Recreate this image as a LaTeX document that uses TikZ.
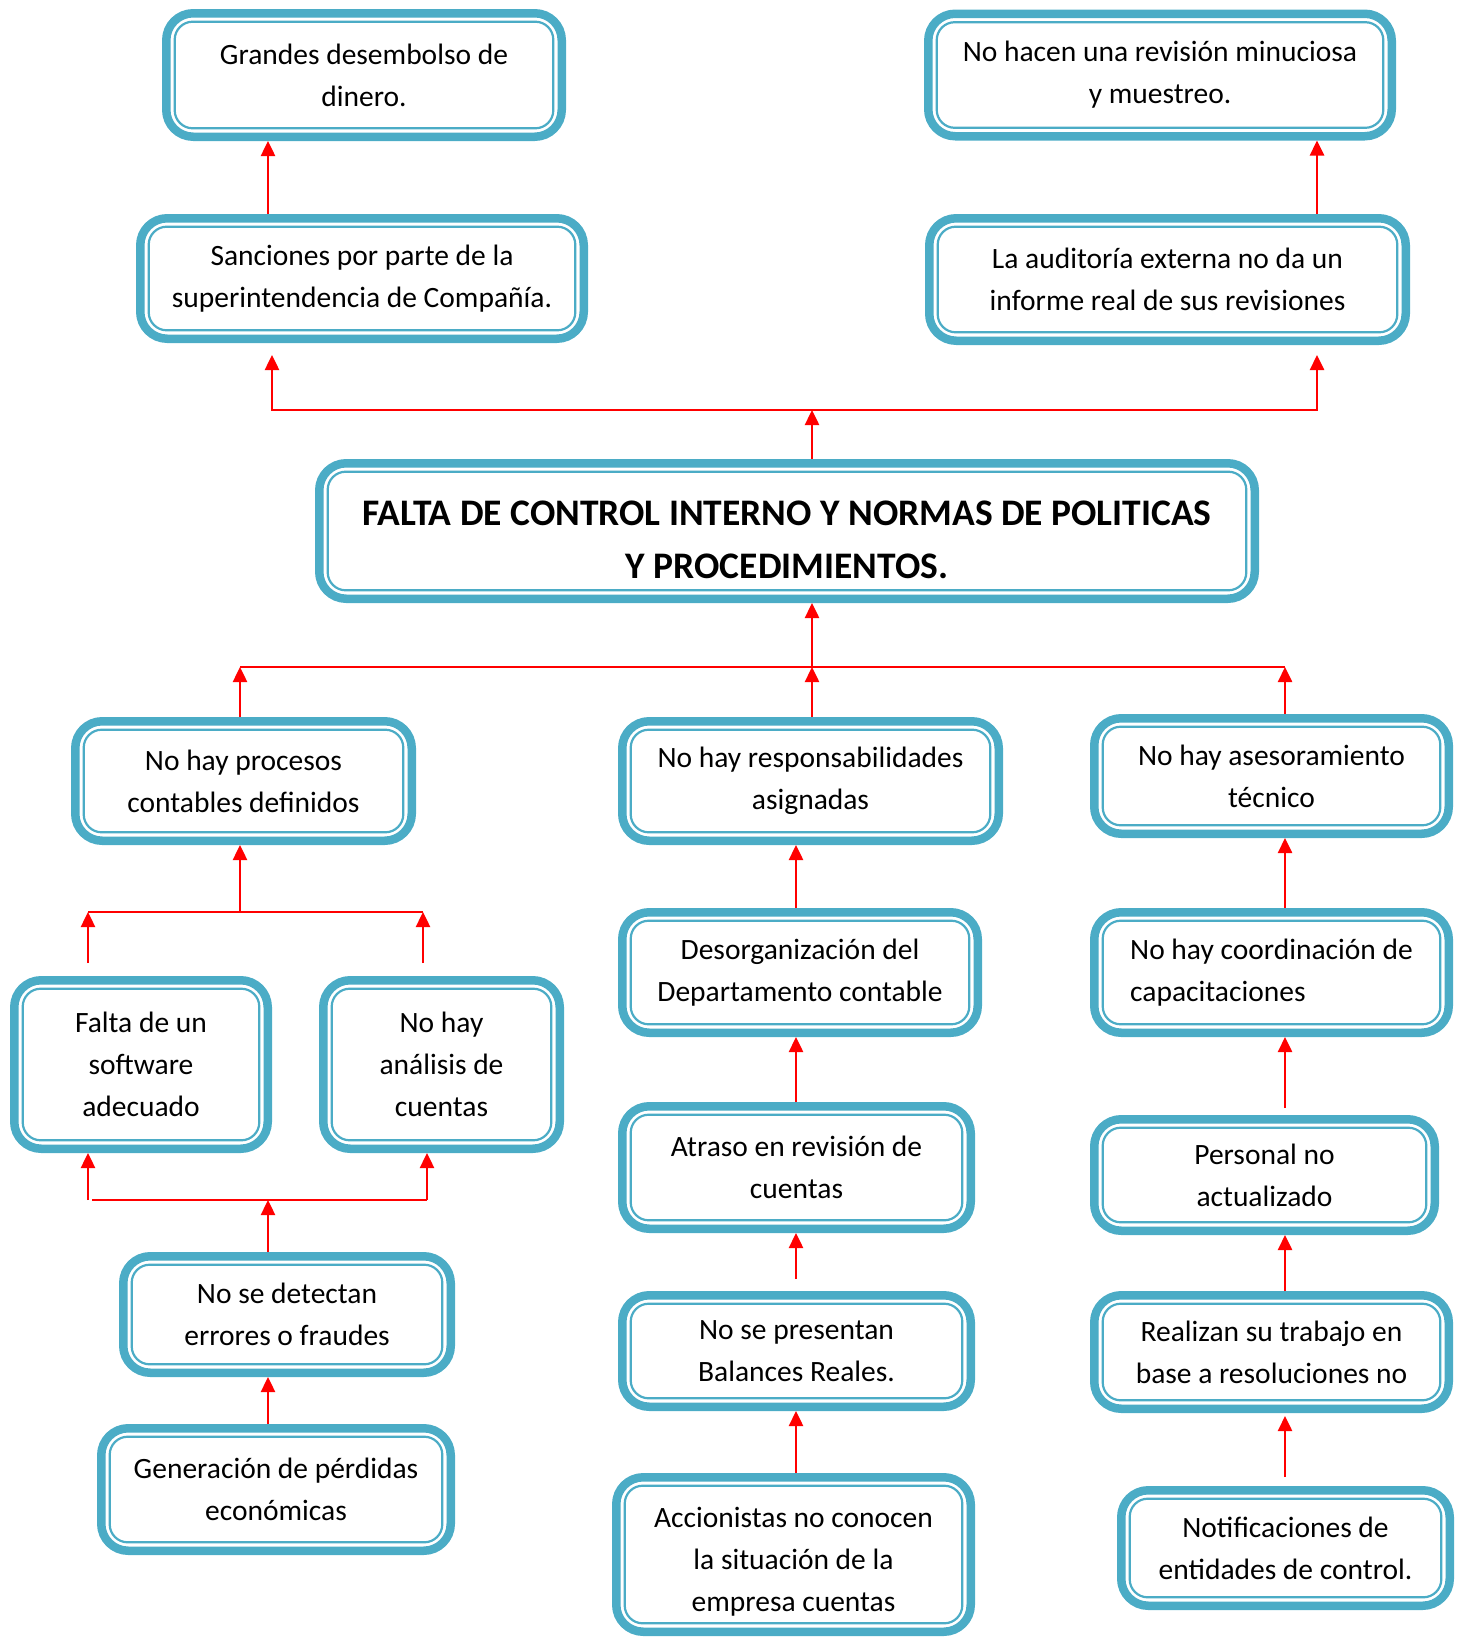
\documentclass[tikz,border=0pt]{standalone}
\usepackage{fontspec}
\setmainfont{Carlito}
\usetikzlibrary{arrows.meta,calc}
\definecolor{cajaazul}{HTML}{4BACC6}
\definecolor{flecharoja}{HTML}{FF0000}

\begin{document}
\begin{tikzpicture}[
  x=1pt, y=-1pt,
  caja/.style={draw=cajaazul, line width=8.5pt, rounded corners=27pt, fill=white, align=center, inner sep=0pt, font=\fontsize{29.5}{42}\selectfont},
  borde/.style={draw=cajaazul, line width=2.2pt, rounded corners=18pt},
  titulo/.style={caja, font=\bfseries\fontsize{37.5}{53}\selectfont},
  linea/.style={draw=flecharoja, line width=2.5pt},
  flecha/.style={linea, -{Triangle[width=14pt,length=15pt]}}
]
\useasboundingbox (0,0) rectangle (1464,1638);

% efectos
\node[caja, minimum width=395.5pt, minimum height=123.5pt] (gd) at (364,75) {Grandes desembolso de\\dinero.};
\node[caja, minimum width=463.5pt, minimum height=122.5pt] (nh) at (1160,75) {No hacen una revisión minuciosa\\y muestreo.};
\node[caja, minimum width=443.5pt, minimum height=120.5pt] (sp) at (362,278.5) {Sanciones por parte de la\\superintendencia de Compañía.};
\node[caja, minimum width=476.5pt, minimum height=122.5pt] (ae) at (1167.5,279.5) {La auditoría externa no da un\\informe real de sus revisiones};

% problema central
\node[titulo, minimum width=935.5pt, minimum height=135.5pt] (main) at (787,531) {\rule{0pt}{42pt}FALTA DE CONTROL INTERNO Y NORMAS DE POLITICAS\\Y PROCEDIMIENTOS.};

% causas
\node[caja, minimum width=336.5pt, minimum height=119.5pt] (pc) at (243.5,781) {No hay procesos\\contables definidos};
\node[caja, minimum width=376.5pt, minimum height=119.5pt] (rs) at (810.5,781) {No hay responsabilidades\\asignadas};
\node[caja, minimum width=354.5pt, minimum height=115.5pt] (ase) at (1271.5,776) {No hay asesoramiento\\técnico};
\node[caja, minimum width=253.5pt, minimum height=168.5pt] (fs) at (141,1064.5) {Falta de un\\software\\adecuado};
\node[caja, minimum width=236.5pt, minimum height=168.5pt] (na) at (441.5,1064.5) {No hay\\análisis de\\cuentas};
\node[caja, minimum width=355.5pt, minimum height=120.5pt] (dd) at (800,972.5) {Desorganización del\\Departamento contable};
\node[caja, align=left, minimum width=354.5pt, minimum height=120.5pt] (cc) at (1271.5,972.5) {No hay coordinación de\\capacitaciones};
\node[caja, minimum width=348.5pt, minimum height=122.5pt] (ar) at (796.5,1167.5) {Atraso en revisión de\\cuentas};
\node[caja, minimum width=340.5pt, minimum height=111.5pt] (pn) at (1264.5,1175) {Personal no\\actualizado};
\node[caja, minimum width=327.5pt, minimum height=116.5pt] (ef) at (287,1314.5) {No se detectan\\errores o fraudes};
\node[caja, minimum width=348.5pt, minimum height=111.5pt] (br) at (796.5,1351) {No se presentan\\Balances Reales.};
\node[caja, minimum width=354.5pt, minimum height=113.5pt] (rr) at (1271.5,1352) {Realizan su trabajo en\\base a resoluciones no};
\node[caja, minimum width=349.5pt, minimum height=122.5pt] (gp) at (276,1489.5) {Generación de pérdidas\\económicas};
\node[caja, minimum width=354.5pt, minimum height=154.5pt] (ac) at (793.5,1554.5) {\rule{0pt}{35pt}Accionistas no conocen\\la situación de la\\empresa cuentas};
\node[caja, minimum width=328.5pt, minimum height=115.5pt] (ne) at (1285.5,1548) {Notificaciones de\\entidades de control.};

% linea interior de cada caja
\foreach \n in {gd,nh,sp,ae,main,pc,rs,ase,fs,na,dd,cc,ar,pn,ef,br,rr,gp,ac,ne}
  \draw[borde] ([shift={(12.7pt,12.7pt)}]\n.south west) rectangle ([shift={(-12.7pt,-12.7pt)}]\n.north east);

% ejes de las flechas
\coordinate (xA) at (268,0);
\coordinate (xB) at (1317,0);
\coordinate (xC) at (796,0);
\coordinate (xD) at (1285,0);

\draw[flecha] (sp.north -| xA) -- (gd.south -| xA);
\draw[flecha] (ae.north -| xB) -- (nh.south -| xB);

% rama superior
\coordinate (bT) at (812,410);
\coordinate (bTl) at (272,410);
\coordinate (bTr) at (1317,410);
\draw[flecha] (main.north -| bT) -- (bT);
\draw[flecha] (bT) -- (bTl) -- ($(sp.south -| bTl)+(0,12)$);
\draw[flecha] (bT) -- (bTr) -- ($(ae.south -| bTr)+(0,10)$);

% rama central
\coordinate (bM) at (812,667);
\coordinate (bMl) at (240,667);
\coordinate (bMr) at (1285,667);
\draw[flecha] (bM) -- (main.south -| bM);
\draw[linea] (bMl) -- (bMr);
\draw[flecha] (pc.north -| bMl) -- (bMl);
\draw[flecha] (rs.north -| bM) -- (bM);
\draw[flecha] (ase.north -| bMr) -- (bMr);

% procesos contables
\coordinate (bP) at (240,912);
\coordinate (bPl) at (88,912);
\coordinate (bPr) at (423,912);
\draw[flecha] (bP) -- (pc.south -| bP);
\draw[linea] (bPl) -- (bPr);
\draw[flecha] ($(fs.north -| bPl)+(0,-13)$) -- (bPl);
\draw[flecha] ($(na.north -| bPr)+(0,-13)$) -- (bPr);

\coordinate (bE) at (268,1200);
\coordinate (bEl) at (88,1200);
\coordinate (bEr) at (427,1200);
\draw[flecha] (ef.north -| bE) -- (bE);
\draw[linea] ($(bEl)+(4,0)$) -- (bEr);
\draw[flecha] (bEl) -- (fs.south -| bEl);
\draw[flecha] (bEr) -- (na.south -| bEr);
\draw[flecha] (gp.north -| bE) -- (ef.south -| bE);

% columna central
\draw[flecha] (dd.north -| xC) -- (rs.south -| xC);
\draw[flecha] (ar.north -| xC) -- (dd.south -| xC);
\draw[flecha] ($(br.north -| xC)+(0,-12)$) -- (ar.south -| xC);
\draw[flecha] (ac.north -| xC) -- (br.south -| xC);

% columna derecha
\draw[flecha] (cc.north -| xD) -- (ase.south -| xD);
\draw[flecha] ($(pn.north -| xD)+(0,-7)$) -- (cc.south -| xD);
\draw[flecha] (rr.north -| xD) -- (pn.south -| xD);
\draw[flecha] ($(ne.north -| xD)+(0,-9)$) -- ($(rr.south -| xD)+(0,3)$);

\end{tikzpicture}
\end{document}
